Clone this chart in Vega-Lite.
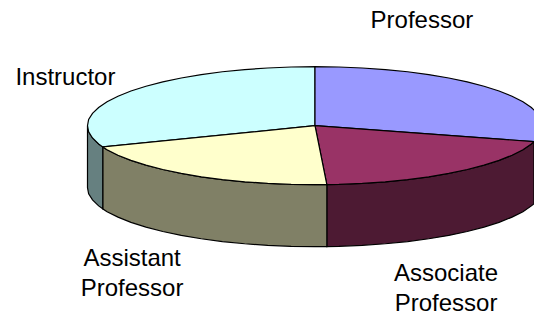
{"$schema":"https://vega.github.io/schema/vega-lite/v6.json","width":534,"height":320,"padding":0,"autosize":{"type":"none"},"background":"white","view":{"stroke":null},
"datasets":{"shape":[
{"part":"Associate side","seq":1,"x":0.9626,"y":-0.27},{"part":"Associate side","seq":2,"x":0.951,"y":-0.309},{"part":"Associate side","seq":3,"x":0.914,"y":-0.407},{"part":"Associate side","seq":4,"x":0.866,"y":-0.5},{"part":"Associate side","seq":5,"x":0.809,"y":-0.588},{"part":"Associate side","seq":6,"x":0.743,"y":-0.669},{"part":"Associate side","seq":7,"x":0.669,"y":-0.743},{"part":"Associate side","seq":8,"x":0.588,"y":-0.809},{"part":"Associate side","seq":9,"x":0.5,"y":-0.866},{"part":"Associate side","seq":10,"x":0.407,"y":-0.914},{"part":"Associate side","seq":11,"x":0.309,"y":-0.951},{"part":"Associate side","seq":12,"x":0.208,"y":-0.978},{"part":"Associate side","seq":13,"x":0.105,"y":-0.995},{"part":"Associate side","seq":14,"x":0.052,"y":-0.999},
{"part":"Associate side","seq":15,"x":0.052,"y":-2.049},{"part":"Associate side","seq":16,"x":0.105,"y":-2.045},{"part":"Associate side","seq":17,"x":0.208,"y":-2.028},{"part":"Associate side","seq":18,"x":0.309,"y":-2.001},{"part":"Associate side","seq":19,"x":0.407,"y":-1.964},{"part":"Associate side","seq":20,"x":0.5,"y":-1.916},{"part":"Associate side","seq":21,"x":0.588,"y":-1.859},{"part":"Associate side","seq":22,"x":0.669,"y":-1.793},{"part":"Associate side","seq":23,"x":0.743,"y":-1.719},{"part":"Associate side","seq":24,"x":0.809,"y":-1.638},{"part":"Associate side","seq":25,"x":0.866,"y":-1.55},{"part":"Associate side","seq":26,"x":0.914,"y":-1.457},{"part":"Associate side","seq":27,"x":0.951,"y":-1.359},{"part":"Associate side","seq":28,"x":0.9626,"y":-1.32},{"part":"Associate side","seq":29,"x":0.9626,"y":-0.27},
{"part":"Assistant side","seq":1,"x":0.052,"y":-0.999},{"part":"Assistant side","seq":2,"x":0,"y":-1},{"part":"Assistant side","seq":3,"x":-0.105,"y":-0.995},{"part":"Assistant side","seq":4,"x":-0.208,"y":-0.978},{"part":"Assistant side","seq":5,"x":-0.309,"y":-0.951},{"part":"Assistant side","seq":6,"x":-0.407,"y":-0.914},{"part":"Assistant side","seq":7,"x":-0.5,"y":-0.866},{"part":"Assistant side","seq":8,"x":-0.588,"y":-0.809},{"part":"Assistant side","seq":9,"x":-0.669,"y":-0.743},{"part":"Assistant side","seq":10,"x":-0.743,"y":-0.669},{"part":"Assistant side","seq":11,"x":-0.809,"y":-0.588},{"part":"Assistant side","seq":12,"x":-0.866,"y":-0.5},{"part":"Assistant side","seq":13,"x":-0.914,"y":-0.407},{"part":"Assistant side","seq":14,"x":-0.933,"y":-0.359},
{"part":"Assistant side","seq":15,"x":-0.933,"y":-1.409},{"part":"Assistant side","seq":16,"x":-0.914,"y":-1.457},{"part":"Assistant side","seq":17,"x":-0.866,"y":-1.55},{"part":"Assistant side","seq":18,"x":-0.809,"y":-1.638},{"part":"Assistant side","seq":19,"x":-0.743,"y":-1.719},{"part":"Assistant side","seq":20,"x":-0.669,"y":-1.793},{"part":"Assistant side","seq":21,"x":-0.588,"y":-1.859},{"part":"Assistant side","seq":22,"x":-0.5,"y":-1.916},{"part":"Assistant side","seq":23,"x":-0.407,"y":-1.964},{"part":"Assistant side","seq":24,"x":-0.309,"y":-2.001},{"part":"Assistant side","seq":25,"x":-0.208,"y":-2.028},{"part":"Assistant side","seq":26,"x":-0.105,"y":-2.045},{"part":"Assistant side","seq":27,"x":0,"y":-2.05},{"part":"Assistant side","seq":28,"x":0.052,"y":-2.049},{"part":"Assistant side","seq":29,"x":0.052,"y":-0.999},
{"part":"Instructor side","seq":1,"x":-0.933,"y":-0.359},{"part":"Instructor side","seq":2,"x":-0.951,"y":-0.309},{"part":"Instructor side","seq":3,"x":-0.978,"y":-0.208},{"part":"Instructor side","seq":4,"x":-0.995,"y":-0.105},{"part":"Instructor side","seq":5,"x":-1,"y":0},{"part":"Instructor side","seq":6,"x":-1,"y":-1.05},{"part":"Instructor side","seq":7,"x":-0.995,"y":-1.155},{"part":"Instructor side","seq":8,"x":-0.978,"y":-1.258},{"part":"Instructor side","seq":9,"x":-0.951,"y":-1.359},{"part":"Instructor side","seq":10,"x":-0.933,"y":-1.409},{"part":"Instructor side","seq":11,"x":-0.933,"y":-0.359},
{"part":"Instructor","seq":1,"x":0,"y":0},{"part":"Instructor","seq":2,"x":-0.933,"y":-0.359},{"part":"Instructor","seq":3,"x":-0.951,"y":-0.309},{"part":"Instructor","seq":4,"x":-0.978,"y":-0.208},{"part":"Instructor","seq":5,"x":-0.995,"y":-0.105},{"part":"Instructor","seq":6,"x":-1,"y":0},{"part":"Instructor","seq":7,"x":-0.995,"y":0.105},{"part":"Instructor","seq":8,"x":-0.978,"y":0.208},{"part":"Instructor","seq":9,"x":-0.951,"y":0.309},{"part":"Instructor","seq":10,"x":-0.914,"y":0.407},{"part":"Instructor","seq":11,"x":-0.866,"y":0.5},{"part":"Instructor","seq":12,"x":-0.809,"y":0.588},{"part":"Instructor","seq":13,"x":-0.743,"y":0.669},{"part":"Instructor","seq":14,"x":-0.669,"y":0.743},{"part":"Instructor","seq":15,"x":-0.588,"y":0.809},{"part":"Instructor","seq":16,"x":-0.5,"y":0.866},{"part":"Instructor","seq":17,"x":-0.407,"y":0.914},{"part":"Instructor","seq":18,"x":-0.309,"y":0.951},{"part":"Instructor","seq":19,"x":-0.208,"y":0.978},{"part":"Instructor","seq":20,"x":-0.105,"y":0.995},{"part":"Instructor","seq":21,"x":0,"y":1},{"part":"Instructor","seq":22,"x":0,"y":0},
{"part":"Professor","seq":1,"x":0,"y":0},{"part":"Professor","seq":2,"x":0,"y":1},{"part":"Professor","seq":3,"x":0.105,"y":0.995},{"part":"Professor","seq":4,"x":0.208,"y":0.978},{"part":"Professor","seq":5,"x":0.309,"y":0.951},{"part":"Professor","seq":6,"x":0.407,"y":0.914},{"part":"Professor","seq":7,"x":0.5,"y":0.866},{"part":"Professor","seq":8,"x":0.588,"y":0.809},{"part":"Professor","seq":9,"x":0.669,"y":0.743},{"part":"Professor","seq":10,"x":0.743,"y":0.669},{"part":"Professor","seq":11,"x":0.809,"y":0.588},{"part":"Professor","seq":12,"x":0.866,"y":0.5},{"part":"Professor","seq":13,"x":0.914,"y":0.407},{"part":"Professor","seq":14,"x":0.951,"y":0.309},{"part":"Professor","seq":15,"x":0.978,"y":0.208},{"part":"Professor","seq":16,"x":0.995,"y":0.105},{"part":"Professor","seq":17,"x":1,"y":0},{"part":"Professor","seq":18,"x":0.995,"y":-0.105},{"part":"Professor","seq":19,"x":0.978,"y":-0.208},{"part":"Professor","seq":20,"x":0.9626,"y":-0.27},{"part":"Professor","seq":21,"x":0,"y":0},
{"part":"Associate","seq":1,"x":0,"y":0},{"part":"Associate","seq":2,"x":0.9626,"y":-0.27},{"part":"Associate","seq":3,"x":0.951,"y":-0.309},{"part":"Associate","seq":4,"x":0.914,"y":-0.407},{"part":"Associate","seq":5,"x":0.866,"y":-0.5},{"part":"Associate","seq":6,"x":0.809,"y":-0.588},{"part":"Associate","seq":7,"x":0.743,"y":-0.669},{"part":"Associate","seq":8,"x":0.669,"y":-0.743},{"part":"Associate","seq":9,"x":0.588,"y":-0.809},{"part":"Associate","seq":10,"x":0.5,"y":-0.866},{"part":"Associate","seq":11,"x":0.407,"y":-0.914},{"part":"Associate","seq":12,"x":0.309,"y":-0.951},{"part":"Associate","seq":13,"x":0.208,"y":-0.978},{"part":"Associate","seq":14,"x":0.105,"y":-0.995},{"part":"Associate","seq":15,"x":0.052,"y":-0.999},{"part":"Associate","seq":16,"x":0,"y":0},
{"part":"Assistant","seq":1,"x":0,"y":0},{"part":"Assistant","seq":2,"x":0.052,"y":-0.999},{"part":"Assistant","seq":3,"x":0,"y":-1},{"part":"Assistant","seq":4,"x":-0.105,"y":-0.995},{"part":"Assistant","seq":5,"x":-0.208,"y":-0.978},{"part":"Assistant","seq":6,"x":-0.309,"y":-0.951},{"part":"Assistant","seq":7,"x":-0.407,"y":-0.914},{"part":"Assistant","seq":8,"x":-0.5,"y":-0.866},{"part":"Assistant","seq":9,"x":-0.588,"y":-0.809},{"part":"Assistant","seq":10,"x":-0.669,"y":-0.743},{"part":"Assistant","seq":11,"x":-0.743,"y":-0.669},{"part":"Assistant","seq":12,"x":-0.809,"y":-0.588},{"part":"Assistant","seq":13,"x":-0.866,"y":-0.5},{"part":"Assistant","seq":14,"x":-0.914,"y":-0.407},{"part":"Assistant","seq":15,"x":-0.933,"y":-0.359},{"part":"Assistant","seq":16,"x":0,"y":0}
],
"labels":[
{"label":"Professor","x":0.47,"y":1.775},
{"label":"Instructor","x":-1.097,"y":0.808},
{"label":"Assistant\nProfessor","x":-0.804,"y":-2.26},
{"label":"Associate\nProfessor","x":0.576,"y":-2.52}
]},
"layer":[
{"data":{"name":"shape"},"mark":{"type":"line","clip":true,"strokeWidth":1.2,"stroke":"black"},
"encoding":{
"x":{"field":"x","type":"quantitative","scale":{"domain":[-1.3846,0.9626],"nice":false,"zero":false},"axis":null},
"y":{"field":"y","type":"quantitative","scale":{"domain":[-3.2932,2.1305],"nice":false,"zero":false},"axis":null},
"detail":{"field":"part"},
"order":{"field":"seq","type":"quantitative"},
"fill":{"field":"part","type":"nominal","legend":null,"scale":{"domain":["Professor","Associate","Assistant","Instructor","Associate side","Assistant side","Instructor side"],"range":["#9999FF","#993366","#FFFFCC","#CCFFFF","#4D1A33","#808066","#668080"]}}
}},
{"data":{"name":"labels"},"mark":{"type":"text","font":"Liberation Sans","fontSize":24,"align":"center","baseline":"middle","lineBreak":"\n","lineHeight":30,"color":"black"},
"encoding":{
"x":{"field":"x","type":"quantitative"},
"y":{"field":"y","type":"quantitative"},
"text":{"field":"label"}
}}
]}
